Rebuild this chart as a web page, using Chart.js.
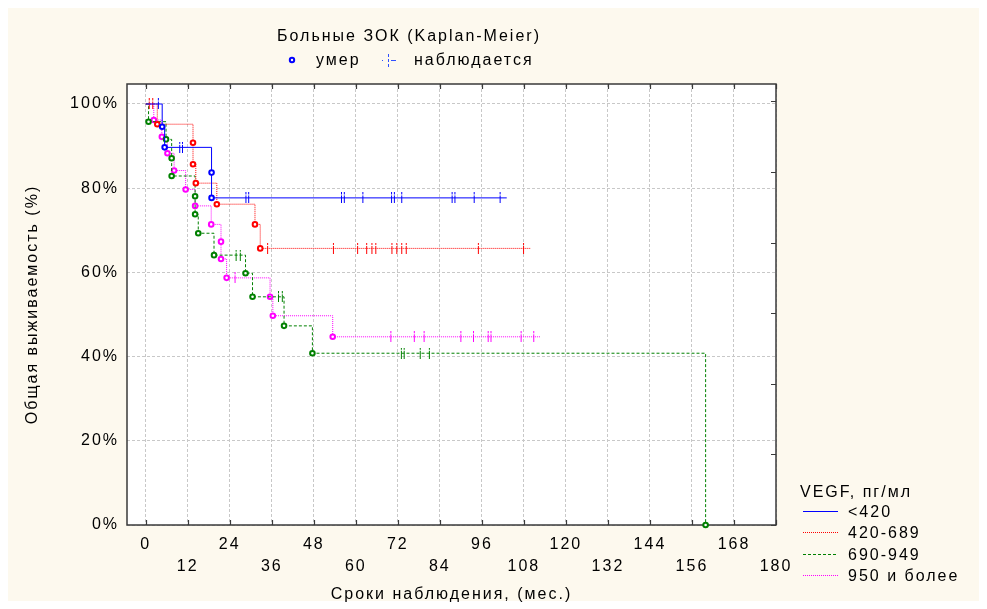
<!DOCTYPE html>
<html>
<head>
<meta charset="utf-8">
<script src="https://cdn.jsdelivr.net/npm/chart.js@4.4.1/dist/chart.umd.min.js"></script>
<style>
  html, body { margin: 0; padding: 0; background: #fff; }
  canvas { display: block; }
</style>
</head>
<body>
<canvas id="km" width="987" height="609"></canvas>
<script>
// ================= DADOS =================
const timeTicks = [0, 12, 24, 36, 48, 60, 72, 84, 96, 108, 120, 132, 144, 156, 168, 180];
const survTicks = [0, 20, 40, 60, 80, 100];
const rightTicks = [0, 1, 2, 3, 4, 5, 6];

const groupNames = ['<420', '420-689', '690-949', '950 и более'];

// <420
const blueDeathT = [4.7, 5.4, 18.8, 18.8];
const blueDeathS = [94.6, 89.7, 83.7, 77.7];
const blueLastT = 103.1;
const blueCensT = [3.6, 9.7, 10.5, 28.6, 29.4, 55.9, 56.7, 62.0, 70.2, 71.0, 73.1, 87.5, 88.3, 93.8, 101.2];

// 420-689
const redDeathT = [3.3, 13.5, 13.5, 14.3, 20.3, 31.2, 32.7];
const redDeathS = [95.2, 90.8, 85.7, 81.2, 76.2, 71.4, 65.7];
const redLastT = 109.8;
const redCensT = [1.0, 2.0, 34.8, 53.6, 60.5, 63.1, 64.6, 65.7, 70.3, 71.7, 73.1, 74.4, 95.0, 107.9];

// 690-949
const greenDeathT = [0.8, 5.8, 7.4, 7.4, 14.1, 14.1, 15.0, 19.5, 28.5, 30.5, 39.5, 47.6, 159.9];
const greenDeathS = [95.8, 91.6, 87.1, 82.9, 78.1, 73.8, 69.3, 64.1, 59.8, 54.2, 47.3, 40.8, 0];
const greenLastT = null; // last event is a death
const greenCensT = [25.8, 27.0, 37.9, 39.0, 73.0, 73.8, 78.4, 81.0];

// 950 и более
const magDeathT = [2.3, 4.6, 6.2, 8.1, 11.4, 14.1, 18.7, 21.5, 21.5, 23.1, 35.5, 36.3, 53.4];
const magDeathS = [96.2, 92.2, 88.3, 84.2, 79.7, 75.8, 71.4, 67.3, 63.2, 58.7, 54.2, 49.7, 44.7];
const magLastT = 112.7;
const magCensT = [25.5, 70.0, 76.7, 79.5, 90.0, 93.6, 97.8, 98.6, 107.2, 110.8];

// ================= ESTILO =================
const FONT = '"Liberation Sans", Arial, sans-serif';
const groups = [
  { deathT: blueDeathT, deathS: blueDeathS, lastT: blueLastT, censT: blueCensT, color: '#0000ff', dash: [] },
  { deathT: redDeathT, deathS: redDeathS, lastT: redLastT, censT: redCensT, color: '#ff0000', dash: [1, 1] },
  { deathT: greenDeathT, deathS: greenDeathS, lastT: greenLastT, censT: greenCensT, color: '#008000', dash: [3, 2] },
  { deathT: magDeathT, deathS: magDeathS, lastT: magLastT, censT: magCensT, color: '#ff00ff', dash: [1, 1] }
];

// survival level of the step curve at time t
function survAt(deathT, deathS, t) {
  let s = 100;
  for (let i = 0; i < deathT.length; i++) if (deathT[i] <= t) s = deathS[i];
  return s;
}

// small "¦" mark for censored cases
function censorMark(color) {
  const c = document.createElement('canvas');
  c.width = 3; c.height = 11;
  const g = c.getContext('2d');
  g.fillStyle = color;
  g.fillRect(1, 0, 1, 2);
  g.fillRect(1, 3, 1, 8);
  return c;
}

const datasets = [];
groups.forEach((g, k) => {
  const pts = [{ x: 0, y: 100 }];
  g.deathT.forEach((t, i) => pts.push({ x: t, y: g.deathS[i] }));
  if (g.lastT !== null) pts.push({ x: g.lastT, y: g.deathS[g.deathS.length - 1] });
  const radii = pts.map((p, i) => (i === 0 || (g.lastT !== null && i === pts.length - 1)) ? 0 : 2.3);

  datasets.push({
    type: 'line',
    label: groupNames[k],
    data: pts,
    stepped: true,
    borderColor: g.color,
    borderWidth: 1,
    borderDash: g.dash,
    fill: false,
    pointRadius: radii,
    pointBorderWidth: 2,
    pointBorderColor: g.color,
    pointBackgroundColor: '#ffffff',
    clip: false
  });
  datasets.push({
    type: 'scatter',
    label: groupNames[k] + ' cens',
    data: g.censT.map(t => ({ x: t, y: survAt(g.deathT, g.deathS, t) })),
    pointStyle: censorMark(g.color),
    pointRadius: 5,
    clip: false
  });
});

// ================= DECORAÇÃO (fundo, moldura, legendas) =================
const decor = {
  id: 'decor',
  beforeDraw(chart) {
    const ctx = chart.ctx, a = chart.chartArea;
    ctx.save();
    ctx.fillStyle = '#ffffff';
    ctx.fillRect(0, 0, chart.width, chart.height);
    ctx.fillStyle = '#fdf9ee';
    ctx.fillRect(8, 8, chart.width - 16, chart.height - 16);
    ctx.fillStyle = '#ffffff';
    ctx.fillRect(a.left, a.top, a.right - a.left, a.bottom - a.top);
    ctx.restore();
    ctx.letterSpacing = '2px';
  },
  beforeDatasetsDraw(chart) {
    const ctx = chart.ctx, a = chart.chartArea;
    const xs = chart.scales.x, y2 = chart.scales.y2;
    ctx.save();
    ctx.strokeStyle = '#3a3a3a';
    ctx.lineWidth = 1.5;
    ctx.strokeRect(a.left, a.top, a.right - a.left, a.bottom - a.top);
    ctx.lineWidth = 1.2;
    ctx.beginPath();
    timeTicks.forEach(v => {
      const px = Math.round(xs.getPixelForValue(v)) + 0.5;
      ctx.moveTo(px, a.bottom); ctx.lineTo(px, a.bottom - 5);
      ctx.moveTo(px, a.top); ctx.lineTo(px, a.top + 5);
    });
    rightTicks.forEach(v => {
      const py = Math.round(y2.getPixelForValue(v)) + 0.5;
      ctx.moveTo(a.right, py); ctx.lineTo(a.right - 5, py);
    });
    ctx.stroke();
    ctx.restore();
  },
  afterDraw(chart) {
    const ctx = chart.ctx;
    ctx.save();
    ctx.letterSpacing = '2px';
    ctx.font = '16px ' + FONT;
    ctx.fillStyle = '#000';
    ctx.textBaseline = 'alphabetic';

    // title
    ctx.textAlign = 'center';
    ctx.fillText('Больные ЗОК (Kaplan-Meier)', 409, 41);

    // top legend: умер / наблюдается
    ctx.textAlign = 'left';
    ctx.strokeStyle = '#0000ff';
    ctx.lineWidth = 2;
    ctx.beginPath();
    ctx.arc(292, 60, 2.2, 0, Math.PI * 2);
    ctx.stroke();
    ctx.fillText('умер', 316, 65);

    ctx.fillStyle = '#3050ff';
    ctx.fillRect(382, 60, 1, 1);
    ctx.fillRect(388, 54, 1, 3);
    ctx.fillRect(388, 59, 1, 3);
    ctx.fillRect(388, 64, 1, 3);
    ctx.fillRect(391, 60, 5, 1);
    ctx.fillStyle = '#000';
    ctx.fillText('наблюдается', 414, 65);

    // right legend: VEGF groups
    ctx.fillText('VEGF, пг/мл', 800, 497);
    groups.forEach((g, k) => {
      const yy = 511 + k * 21.3;
      ctx.save();
      ctx.strokeStyle = g.color;
      ctx.lineWidth = 1;
      ctx.setLineDash(g.dash);
      ctx.beginPath();
      ctx.moveTo(803, Math.round(yy) + 0.5);
      ctx.lineTo(838, Math.round(yy) + 0.5);
      ctx.stroke();
      ctx.restore();
      ctx.fillText(groupNames[k], 848, yy + 6);
    });
    ctx.restore();
  }
};

// ================= GRÁFICO =================
Chart.defaults.font.family = FONT;
Chart.defaults.font.size = 16;
Chart.defaults.color = '#000';

new Chart(document.getElementById('km'), {
  type: 'line',
  data: { datasets },
  plugins: [decor],
  options: {
    responsive: false,
    animation: false,
    devicePixelRatio: 1,
    events: [],
    layout: { padding: { top: 84, right: 211, left: 0, bottom: 0 } },
    plugins: {
      legend: { display: false },
      tooltip: { enabled: false }
    },
    scales: {
      x: {
        type: 'linear',
        min: -5.35,
        max: 180,
        afterBuildTicks: s => { s.ticks = timeTicks.map(v => ({ value: v })); },
        afterFit: s => { s.height = 84; },
        ticks: {
          autoSkip: false,
          maxRotation: 0,
          padding: 9,
          font: { size: 16, lineHeight: 1.375 },
          callback: (v, i) => (i % 2 ? ['', String(v)] : String(v))
        },
        grid: { color: '#c8c8c8', drawTicks: false },
        border: { display: false, dash: [3, 2] },
        title: {
          display: true,
          text: 'Сроки наблюдения, (мес.)',
          font: { size: 16 },
          padding: { top: 0, bottom: 5 }
        }
      },
      y: {
        min: 0,
        max: 104.75,
        afterBuildTicks: s => { s.ticks = survTicks.map(v => ({ value: v })); },
        afterFit: s => { s.width = 127; },
        ticks: { padding: 8, font: { size: 16 }, callback: v => v + '%' },
        grid: { color: '#c8c8c8', drawTicks: false },
        border: { display: false, dash: [3, 2] },
        title: {
          display: true,
          text: 'Общая выживаемость (%)',
          font: { size: 16 },
          padding: { top: 23, bottom: 0 }
        }
      },
      y2: {
        position: 'right',
        min: 0,
        max: 6.246,
        afterBuildTicks: s => { s.ticks = rightTicks.map(v => ({ value: v })); },
        afterFit: s => { s.width = 0; },
        ticks: { display: false },
        grid: { drawOnChartArea: false, drawTicks: false },
        border: { display: false }
      }
    }
  }
});
</script>
</body>
</html>
